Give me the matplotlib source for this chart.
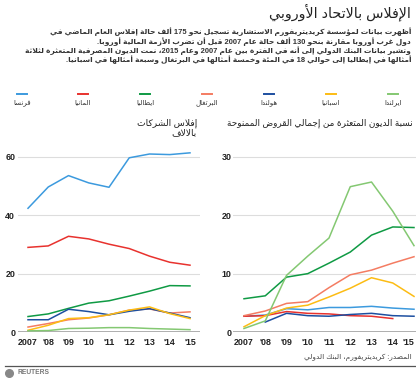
import re

import matplotlib
matplotlib.use("Agg")
import matplotlib.pyplot as plt
from matplotlib.lines import Line2D

# ---- data ----
years = [2007, 2008, 2009, 2010, 2011, 2012, 2013, 2014, 2015]
year_labels = ["2007", "'08", "'09", "'10", "'11", "'12", "'13", "'14", "'15"]

countries = ["فرنسا", "المانيا", "ايطاليا", "البرتغال", "هولندا", "اسبانيا", "ايرلندا"]
colors = ["#3c9ade", "#e8322e", "#0f9a44", "#f47c62", "#1d4fa0", "#fcbc14", "#84c872"]

# corporate insolvencies, thousands
bankruptcies = {
    "فرنسا": [42.4, 49.7, 53.6, 51.1, 49.6, 59.7, 61.0, 60.8, 61.4],
    "المانيا": [29.0, 29.5, 32.8, 31.9, 30.1, 28.6, 26.0, 23.9, 22.9],
    "ايطاليا": [5.3, 6.2, 8.1, 9.9, 10.7, 12.3, 14.0, 15.9, 15.8],
    "البرتغال": [1.7, 2.9, 4.2, 4.8, 5.9, 7.5, 7.9, 6.5, 6.9],
    "هولندا": [4.2, 4.2, 7.8, 7.0, 5.9, 7.1, 8.0, 6.5, 4.9],
    "اسبانيا": [0.6, 2.3, 4.6, 4.9, 5.9, 7.5, 8.6, 6.3, 4.6],
    "ايرلندا": [0.4, 0.5, 1.2, 1.3, 1.5, 1.5, 1.2, 1.0, 0.8],
}

# non-performing loans, % of total loans
npl = {
    "فرنسا": [2.7, 2.9, 4.0, 3.8, 4.2, 4.2, 4.4, 4.1, 3.9],
    "المانيا": [2.7, 2.8, 3.5, 3.2, 3.1, 2.8, 2.7, 2.3, None],
    "ايطاليا": [5.7, 6.2, 9.4, 10.0, 11.8, 13.7, 16.6, 18.0, 17.9],
    "البرتغال": [2.8, 3.6, 4.9, 5.2, 7.6, 9.8, 10.6, 11.8, 12.9],
    "هولندا": [None, 1.7, 3.2, 2.8, 2.7, 3.0, 3.2, 2.8, 2.7],
    "اسبانيا": [0.9, 2.8, 4.1, 4.6, 6.0, 7.5, 9.3, 8.4, 6.1],
    "ايرلندا": [0.6, 1.9, 9.7, 13.0, 16.1, 24.9, 25.7, 20.7, 14.8],
}

title = "الإفلاس بالاتحاد الأوروبي"
body = [
    "أظهرت بيانات لمؤسسة كريديتريفورم الاستشارية تسجيل نحو 175 ألف حالة إفلاس العام الماضي في",
    "دول غرب أوروبا مقارنة بنحو 130 ألف حالة عام 2007 قبل أن تضرب الأزمة المالية أوروبا.",
    "وتشير بيانات البنك الدولي إلى أنه في الفترة بين عام 2007 وعام 2015، نمت الديون المصرفية المتعثرة لثلاثة",
    "أمثالها في إيطاليا إلى حوالي 18 في المئة وخمسة أمثالها في البرتغال وسبعة أمثالها في اسبانيا.",
]
left_title = ["إفلاس الشركات", "بالالاف"]
right_title = "نسبة الديون المتعثرة من إجمالي القروض الممنوحة"
source = "المصدر: كريديتريفورم، البنك الدولي"

# ---- minimal arabic shaping (matplotlib has no bidi / joining) ----
# letter -> (isolated presentation form, joining type: 0 none, 1 right, 2 dual)
AR = {
    "ء": (0xFE80, 0), "آ": (0xFE81, 1), "أ": (0xFE83, 1), "ؤ": (0xFE85, 1),
    "إ": (0xFE87, 1), "ئ": (0xFE89, 2), "ا": (0xFE8D, 1), "ب": (0xFE8F, 2),
    "ة": (0xFE93, 1), "ت": (0xFE95, 2), "ث": (0xFE99, 2), "ج": (0xFE9D, 2),
    "ح": (0xFEA1, 2), "خ": (0xFEA5, 2), "د": (0xFEA9, 1), "ذ": (0xFEAB, 1),
    "ر": (0xFEAD, 1), "ز": (0xFEAF, 1), "س": (0xFEB1, 2), "ش": (0xFEB5, 2),
    "ص": (0xFEB9, 2), "ض": (0xFEBD, 2), "ط": (0xFEC1, 2), "ظ": (0xFEC5, 2),
    "ع": (0xFEC9, 2), "غ": (0xFECD, 2), "ف": (0xFED1, 2), "ق": (0xFED5, 2),
    "ك": (0xFED9, 2), "ل": (0xFEDD, 2), "م": (0xFEE1, 2), "ن": (0xFEE5, 2),
    "ه": (0xFEE9, 2), "و": (0xFEED, 1), "ى": (0xFEEF, 1), "ي": (0xFEF1, 2),
}
LAM_ALEF = {"آ": 0xFEF5, "أ": 0xFEF7, "إ": 0xFEF9, "ا": 0xFEFB}


def jtype(tok):
    if isinstance(tok, tuple):
        return 1
    return AR[tok][1] if tok in AR else 0


def ar(text):
    toks = []
    i = 0
    while i < len(text):
        c = text[i]
        if c == "ل" and i + 1 < len(text) and text[i + 1] in LAM_ALEF:
            toks.append(("la", LAM_ALEF[text[i + 1]]))
            i += 2
        else:
            toks.append(c)
            i += 1
    out = []
    for k, t in enumerate(toks):
        jt = jtype(t)
        if jt == 0:
            out.append(t)
            continue
        prev = k > 0 and jtype(toks[k - 1]) == 2
        nxt = jt == 2 and k + 1 < len(toks) and jtype(toks[k + 1]) > 0
        base = t[1] if isinstance(t, tuple) else AR[t][0]
        if jt == 1:
            out.append(chr(base + (1 if prev else 0)))
        else:
            off = 3 if (prev and nxt) else 1 if prev else 2 if nxt else 0
            out.append(chr(base + off))
    s = "".join(out)[::-1]
    return re.sub(r"[0-9]+", lambda m: m.group(0)[::-1], s)


FONT = ["Liberation Sans", "DejaVu Sans"]
W, H = 416, 378
fig = plt.figure(figsize=(W / 100, H / 100), dpi=100)


def fx(px):
    return px / W


def fy(py):
    return 1 - py / H


# ---- header ----
fig.text(fx(411), fy(12), ar(title), ha="right", va="center", fontsize=10.3,
         family=FONT, color="#222222")
for i, line in enumerate(body):
    fig.text(fx(411), fy(32 + 9.3 * i), ar(line), ha="right", va="center",
             fontsize=5.4, family=FONT, weight="bold", color="#333333")

# ---- legend ----
leg_x = [22, 83, 145, 207, 269, 331, 393]
for name, col, x in zip(countries, colors, leg_x):
    fig.add_artist(Line2D([fx(x - 5), fx(x + 5)], [fy(94), fy(94)], color=col, lw=1.4))
    fig.text(fx(x), fy(103), ar(name), ha="center", va="center", fontsize=5,
             family=FONT, color="#333333")

# ---- panel titles ----
fig.text(fx(197), fy(123), ar(left_title[0]), ha="right", va="center",
         fontsize=6.6, family=FONT, color="#222222")
fig.text(fx(197), fy(133), ar(left_title[1]), ha="right", va="center",
         fontsize=6.6, family=FONT, color="#222222")
fig.text(fx(413), fy(123), ar(right_title), ha="right", va="center",
         fontsize=6.4, family=FONT, color="#222222")


def style(ax, yticks, ypad):
    ax.set_yticks(yticks)
    ax.set_xticks(years)
    ax.set_xticklabels(year_labels)
    ax.grid(axis="y", color="#dddddd", lw=0.8)
    ax.axhline(0, color="#999999", lw=1.1, zorder=3)
    for s in ax.spines.values():
        s.set_visible(False)
    ax.tick_params(length=0, labelsize=6.4, pad=4)
    ax.tick_params(axis="y", pad=ypad)
    for lab in ax.get_xticklabels() + ax.get_yticklabels():
        lab.set_fontweight("bold")
        lab.set_family("Liberation Sans")
        lab.set_color("#222222")
    ax.set_facecolor("none")


# left: insolvencies
axl = fig.add_axes([fx(18), fy(332), fx(182), (332 - 140) / H])
for name, col in zip(countries, colors):
    axl.plot(years, bankruptcies[name], color=col, lw=1.1, zorder=4)
axl.set_xlim(2006.506, 2015.494)
axl.set_ylim(0, 65.8)
style(axl, [0, 20, 40, 60], 2)

# right: NPL ratio
axr = fig.add_axes([fx(233), fy(332), fx(183), (332 - 140) / H])
for name, col in zip(countries, colors):
    vals = [float("nan") if v is None else v for v in npl[name]]
    axr.plot(years, vals, color=col, lw=1.1, zorder=4)
axr.set_xlim(2006.482, 2015.094)
axr.set_ylim(0, 32.9)
style(axr, [0, 10, 20, 30], 1)
# last year label sits against the right edge
last = axr.get_xticklabels()[-1]
last.set_horizontalalignment("right")
last.set_x(2015.3)

# ---- footer ----
fig.text(fx(412), fy(357), ar(source), ha="right", va="center", fontsize=5.3,
         family=FONT, color="#444444")
fig.add_artist(Line2D([fx(5), fx(416)], [fy(366), fy(366)], color="#555555", lw=0.9))
fig.add_artist(Line2D([fx(9)], [fy(373)], marker="o", ms=5.5, color="#888888"))
fig.text(fx(17), fy(373), "REUTERS", ha="left", va="center", fontsize=4.8,
         weight="bold", family="Liberation Sans", color="#777777")

fig.savefig("out.png", dpi=100)
